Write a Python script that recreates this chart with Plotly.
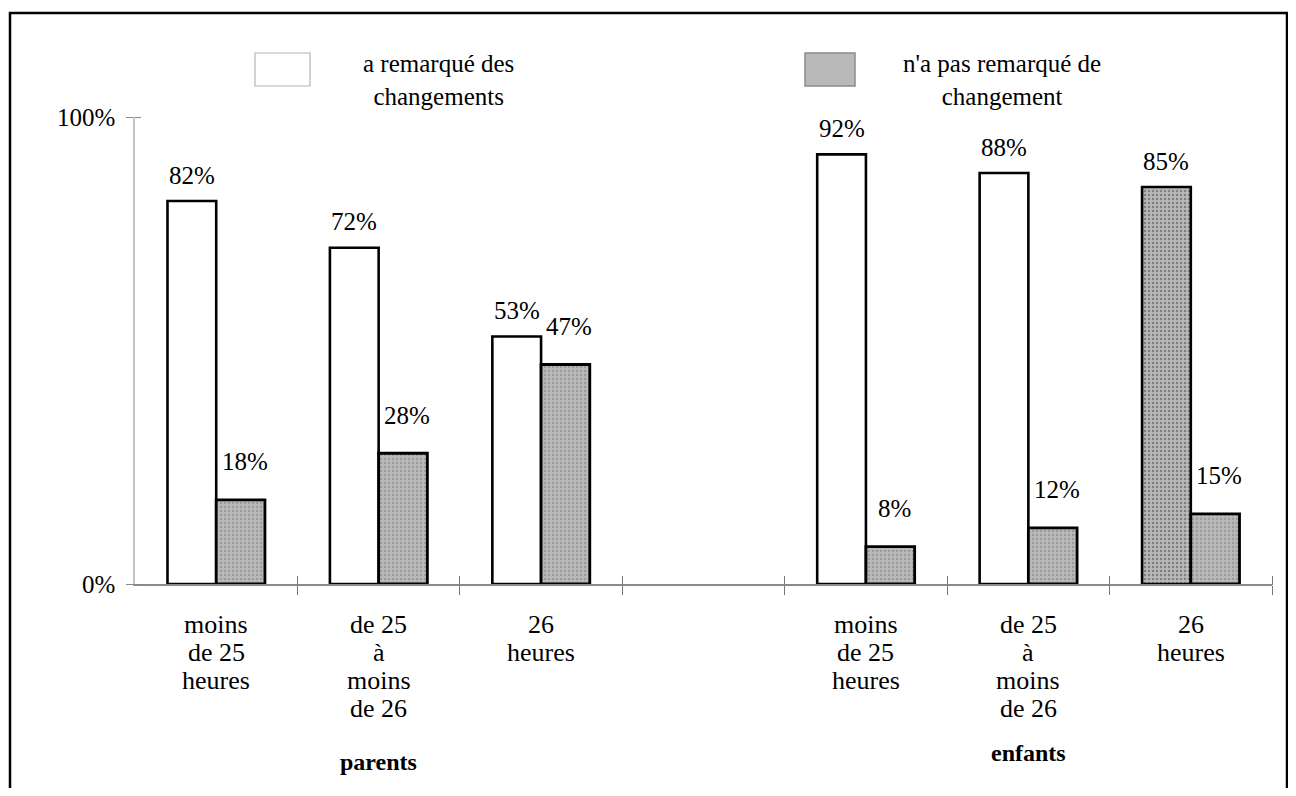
import plotly.graph_objects as go

# ---------------- data ----------------
categories = ["moins<br>de 25<br>heures", "de 25<br>à<br>moins<br>de 26", "26<br>heures"]
groups = ["parents", "enfants"]
series_names = ["a remarqué des<br>changements", "n'a pas remarqué de<br>changement"]
remarque = [82, 72, 53, 92, 88, 85]          # parents (3) then enfants (3)
pas_remarque = [18, 28, 47, 8, 12, 15]
y_ticks = [0, 100]
y_ticktext = ["0%", "100%"]

# ---------------- layout constants ----------------
OFF = 8                       # page body margin
W, H = 1280, 780
ML = 135 - OFF
MT = 117 - OFF
MR = W - (1272 - OFF)
MB = H - (584 - OFF)
PW, PH = W - ML - MR, H - MT - MB
FONT = "Liberation Serif"
GRAY = "#b9b9b9"
DOT = "#7c7c7c"
BARGAP = 0.4
CAT_LINE = 28                 # line spacing of the category labels (px)

def px_x(p):
    return (p - OFF - ML) / PW

def px_y(p):
    return 1 - (p - OFF - MT) / PH

ncat = len(categories)
xpos = [g * (ncat + 1) + c for g in range(len(groups)) for c in range(ncat)]
cat_labels = categories * len(groups)
boundaries = [v + 0.5 for v in range(len(groups) * (ncat + 1) - 1)]
xmax = len(groups) * (ncat + 1) - 1.5

# colours: the last "remarqué" bar of the reference is printed grey
colA = ["white"] * (len(remarque) - 1) + [GRAY]
shapeA = [""] * (len(remarque) - 1) + ["."]

fig = go.Figure()
fig.add_trace(go.Bar(
    x=xpos, y=remarque, name="a remarqué des changements",
    marker=dict(color=colA, line=dict(color="black", width=2.6),
                pattern=dict(shape=shapeA, fillmode="overlay", fgcolor=DOT,
                             size=4, solidity=0.3)),
    showlegend=False,
))
fig.add_trace(go.Bar(
    x=xpos, y=pas_remarque, name="n'a pas remarqué de changement",
    marker=dict(color=GRAY, line=dict(color="black", width=2.8),
                pattern=dict(shape=".", fillmode="overlay", fgcolor=DOT,
                             size=4, solidity=0.3)),
    showlegend=False,
))
# invisible helper traces so that the tick-only overlay axes are drawn
for xa, ya in (("x2", "y"), ("x", "y2")):
    fig.add_trace(go.Scatter(x=[0], y=[0], xaxis=xa, yaxis=ya, mode="markers",
                             marker=dict(opacity=0, size=1), hoverinfo="skip",
                             showlegend=False))

annotations = []
# value labels above bars
half = (1 - BARGAP) / 4
for xv, v in zip(xpos, remarque):
    annotations.append(dict(x=xv - half, y=v, xref="x", yref="y", text=f"{v}%",
                            showarrow=False, yanchor="middle", yshift=26,
                            font=dict(family=FONT, size=25, color="black")))
for xv, v in zip(xpos, pas_remarque):
    annotations.append(dict(x=xv + half, y=v, xref="x", yref="y", text=f"{v}%",
                            showarrow=False, yanchor="middle", yshift=38, xshift=4,
                            font=dict(family=FONT, size=25, color="black")))

# category labels (one annotation per line for the tight line spacing)
for xv, lab in zip(xpos, cat_labels):
    for i, line in enumerate(lab.split("<br>")):
        annotations.append(dict(x=xv, y=0, xref="x", yref="y", text=line,
                                showarrow=False, yanchor="middle",
                                yshift=-(624 - 584) - i * CAT_LINE,
                                font=dict(family=FONT, size=26, color="black")))

# group labels
for g, name in enumerate(groups):
    annotations.append(dict(x=g * (ncat + 1) + (ncat - 1) / 2, y=px_y(762 if g == 0 else 753),
                            xref="x", yref="paper", text=f"<b>{name}</b>",
                            showarrow=False, yanchor="middle",
                            font=dict(family=FONT, size=24, color="black")))

# legend (drawn manually)
for cx, name in zip((438, 1002), series_names):
    annotations.append(dict(x=px_x(cx), y=px_y(80), xref="paper", yref="paper",
                            text=name, showarrow=False, align="center",
                            xanchor="center", yanchor="middle",
                            font=dict(family=FONT, size=25, color="black")))

shapes = [
    # outer frame
    dict(type="rect", xref="paper", yref="paper", x0=px_x(10), x1=px_x(1287),
         y0=px_y(810), y1=px_y(13), line=dict(color="black", width=2.5),
         fillcolor="rgba(0,0,0,0)", layer="above"),
    # legend swatches
    dict(type="rect", xref="paper", yref="paper", x0=px_x(255), x1=px_x(310),
         y0=px_y(86), y1=px_y(53), line=dict(color="#b5b5b5", width=1.2),
         fillcolor="white"),
    dict(type="rect", xref="paper", yref="paper", x0=px_x(805), x1=px_x(855),
         y0=px_y(86), y1=px_y(53), line=dict(color="#8a8a8a", width=1.5),
         fillcolor=GRAY),
]

axis_common = dict(range=[-0.5, xmax], showgrid=False, zeroline=False, fixedrange=True)
XT = 9   # half length of the crossing x ticks
YT = 6   # half length of the crossing y ticks

fig.update_layout(
    width=W, height=H,
    margin=dict(l=ML, r=MR, t=MT, b=MB),
    paper_bgcolor="white", plot_bgcolor="white",
    barmode="group", bargap=BARGAP, bargroupgap=0,
    showlegend=False,
    font=dict(family=FONT, color="black"),
    xaxis=dict(**axis_common, tickmode="array", tickvals=boundaries,
               ticks="outside", ticklen=XT, tickwidth=1.3, tickcolor="#777",
               showticklabels=False, showline=True, linecolor="#8c8c8c", linewidth=1.5),
    xaxis2=dict(**axis_common, overlaying="x", anchor="free", position=XT / PH,
                side="bottom", tickmode="array", tickvals=boundaries,
                ticks="outside", ticklen=XT, tickwidth=1.3, tickcolor="#777",
                showticklabels=False, showline=False),
    yaxis=dict(range=[0, 100], tickmode="array", tickvals=y_ticks, ticktext=y_ticktext,
               ticks="outside", ticklen=7, tickcolor="#888", tickwidth=1.3,
               showline=True, linecolor="#c4c4c4", linewidth=1.5,
               showgrid=False, zeroline=False, fixedrange=True,
               tickfont=dict(family=FONT, size=25, color="black"),
               ticklabelstandoff=6),
    yaxis2=dict(range=[0, 100], overlaying="y", anchor="free", position=YT / PW,
                side="left", tickmode="array", tickvals=y_ticks,
                ticks="outside", ticklen=YT, tickcolor="#888", tickwidth=1.3,
                showticklabels=False, showline=False, showgrid=False,
                zeroline=False, fixedrange=True),
    annotations=annotations,
    shapes=shapes,
)

fig.write_html("out.html")
